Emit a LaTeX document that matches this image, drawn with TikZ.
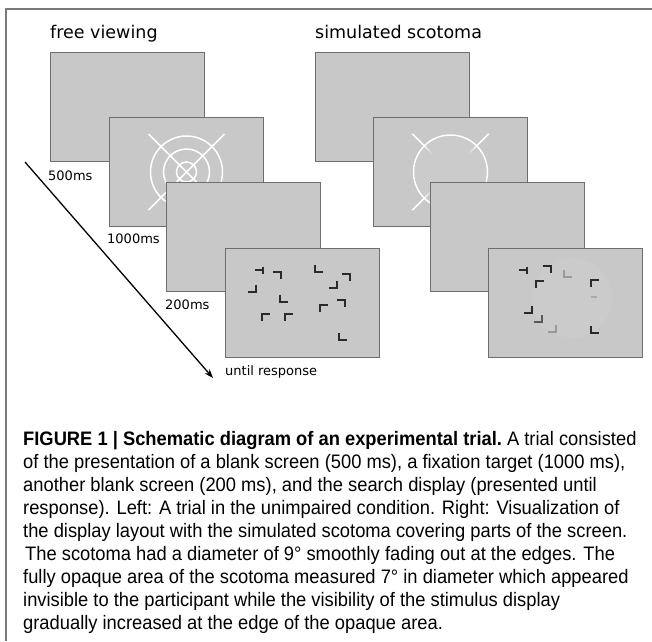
\documentclass[tikz,border=0pt]{standalone}
\usepackage{fontspec}
\setmainfont{DejaVu Sans}
\newfontfamily\capfont[FakeStretch=0.94]{Liberation Sans}
\usetikzlibrary{arrows.meta}

\definecolor{screenfill}{HTML}{C8C8C8}
\definecolor{screenedge}{HTML}{6E6E6E}
\definecolor{scotfill}{HTML}{CBCBCB}
\definecolor{framegray}{HTML}{7A7A7A}
\definecolor{glyph}{HTML}{2A2A2A}

% soft-edged disc used for the simulated scotoma
\pgfdeclareradialshading{scotoma}{\pgfpoint{0bp}{0bp}}{color(0bp)=(scotfill); color(32bp)=(scotfill); color(50bp)=(screenfill)}

\tikzset{
  screen/.style={fill=screenfill, draw=screenedge, line width=1pt,
    minimum width=154pt, minimum height=109pt, inner sep=0pt, anchor=north west},
  target/.style={draw=white, line width=1.5pt},
  glyphline/.style={draw=glyph, line width=2pt},
  lbl/.style={font=\fontsize{13}{15}\selectfont, anchor=base west, inner sep=0pt},
  ttl/.style={font=\fontsize{17.5}{20}\selectfont, anchor=base west, inner sep=0pt},
  capline/.style={font=\capfont\fontsize{19.5}{22}\selectfont, anchor=base west, inner sep=0pt},
  % search items: L and T shapes in several orientations
  gL/.pic={\draw[glyphline] (-4,-3.5) -- (-4,3.5) -- (4,3.5);},
  gG/.pic={\draw[glyphline] (-4,3.5) -- (-4,-3.5) -- (4,-3.5);},
  gN/.pic={\draw[glyphline] (-4,-3.5) -- (4,-3.5) -- (4,3.5);},
  gJ/.pic={\draw[glyphline] (4,-3.5) -- (4,3.5) -- (-4,3.5);},
  gT/.pic={\draw[glyphline] (-4,0) -- (4,0) (4,-3.5) -- (4,3.5);},
  gD/.pic={\draw[glyphline] (-3,0) -- (3,0);}
}

\begin{document}
\begin{tikzpicture}[x=1pt, y=-1pt]
\useasboundingbox (0,0) rectangle (652,641);

% frame lines
\draw[framegray, line width=2pt] (6,641) -- (6,9) -- (652,9);

% column titles
\node[ttl] (tfree) at (50,38) {free viewing};
\node[ttl] (tscot) at (315,38) {simulated scotoma};

% ---------- free viewing ----------
\node[screen] (fv1) at (50,52) {};
\node[screen] (fv2) at (109,117) {};
\begin{scope}[shift={(fv2.center)}]
  \draw[target] (0,0) circle (10pt) (0,0) circle (23pt) (0,0) circle (36pt);
  \draw[target] (-38,-38) -- (38,38) (-38,38) -- (38,-38);
\end{scope}
\node[screen] (fv3) at (166,182) {};
\node[screen] (fv4) at (225,248) {};
\begin{scope}[shift={(fv4.north west)}]
  \pic at (34,22) {gT};
  \pic at (52,27.5) {gN};
  \pic at (27,40) {gJ};
  \pic at (58.5,50) {gL};
  \pic at (93.5,20.3) {gL};
  \pic at (120.5,29) {gN};
  \pic at (107.7,36) {gJ};
  \pic at (115.5,55.5) {gN};
  \pic at (98.7,60) {gG};
  \pic at (41,69) {gG};
  \pic at (64,69) {gG};
  \pic at (118,88.3) {gL};
\end{scope}

% time labels and arrow
\node[lbl] (l500) at (48,180) {500ms};
\node[lbl] (l1000) at (107,243) {1000ms};
\node[lbl] (l200) at (165,309) {200ms};
\node[lbl] (lresp) at (225,375) {until response};
\coordinate (arrowstart) at (25,162);
\coordinate (arrowend) at (213,378);
\draw[line width=1.3pt, -{Stealth[length=9pt, width=6.5pt]}] (arrowstart) -- (arrowend);

% ---------- simulated scotoma ----------
\node[screen] (ss1) at (315,52) {};
\node[screen] (ss2) at (373,117) {};
\begin{scope}[shift={(ss2.center)}]
  \shade[shading=scotoma] (0,0) circle (36pt);
  \draw[target] (0,0) circle (37pt);
  \foreach \a in {45,135,225,315} {
    \draw[target] (\a:38pt) -- (\a:54pt);
    \foreach \r in {26,28,...,36} {
      \pgfmathsetmacro\rr{\r+2.2}
      \pgfmathsetmacro\op{(\r-24)/14}
      \draw[target, draw opacity=\op] (\a:\r pt) -- (\a:\rr pt);
    }
  }
\end{scope}
\node[screen] (ss3) at (430,182) {};
\node[screen] (ss4) at (488,248) {};
\begin{scope}[shift={(ss4.north west)}]
  \shade[shading=scotoma] (84,50) circle (40pt);
  \pic at (35.3,22) {gT};
  \pic at (58.5,21.7) {gN};
  \pic[opacity=0.3] at (80,25) {gL};
  \pic at (51.7,36) {gG};
  \pic at (106.7,35) {gG};
  \pic[opacity=0.2] at (106,49.3) {gD};
  \pic at (39.5,61) {gJ};
  \pic[opacity=0.7] at (49.7,70.7) {gJ};
  \pic[opacity=0.3] at (64.3,80.7) {gJ};
  \pic at (107,81) {gL};
\end{scope}

% ---------- caption ----------
\node[capline] (cap1) at (23,445.0) {\bfseries FIGURE 1 | Schematic diagram of an experimental trial.\mdseries\ A trial consisted};
\node[capline] (cap2) at (23,468.1) {of the presentation of a blank screen (500 ms), a fixation target (1000 ms),};
\node[capline] (cap3) at (23,491.2) {another blank screen (200 ms), and the search display (presented until};
\node[capline] (cap4) at (23,514.3) {response). Left: A trial in the unimpaired condition. Right: Visualization of};
\node[capline] (cap5) at (23,537.4) {the display layout with the simulated scotoma covering parts of the screen.};
\node[capline] (cap6) at (25,560.5) {The scotoma had a diameter of 9° smoothly fading out at the edges. The};
\node[capline] (cap7) at (23,583.6) {fully opaque area of the scotoma measured 7° in diameter which appeared};
\node[capline] (cap8) at (23,606.7) {invisible to the participant while the visibility of the stimulus display};
\node[capline] (cap9) at (23,629.8) {gradually increased at the edge of the opaque area.};
\end{tikzpicture}
\end{document}
